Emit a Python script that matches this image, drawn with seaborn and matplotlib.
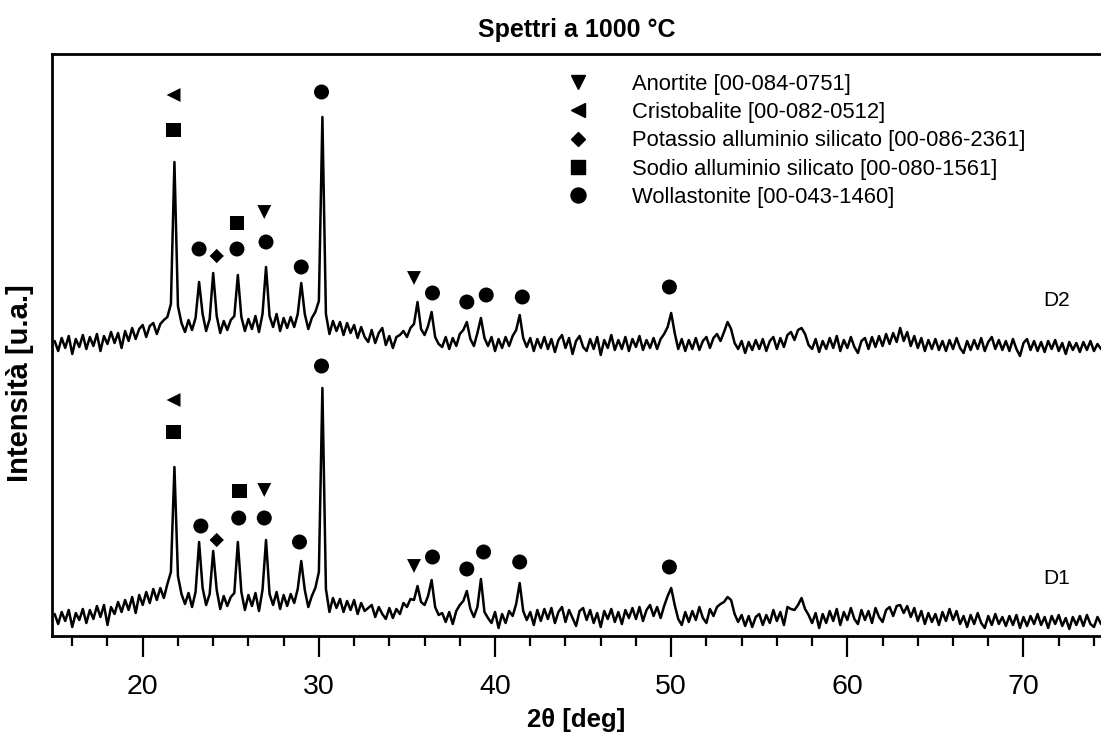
import numpy as np
import pandas as pd
import matplotlib
matplotlib.use("Agg")
import matplotlib.pyplot as plt
import seaborn as sns
from matplotlib.lines import Line2D
from matplotlib.ticker import MultipleLocator

# ---------------- data ----------------
# 2theta sampling grid (deg), step 0.2
two_theta = np.round(np.arange(15.0, 74.41, 0.2), 1)

# intensities (arbitrary units)
d1 = [
    22, 12, 24, 15, 26, 9, 23, 16, 27, 13,
    26, 17, 30, 19, 31, 11, 29, 22, 34, 24,
    36, 26, 39, 23, 41, 31, 44, 33, 47, 36,
    48, 38, 52, 64, 169, 60, 42, 32, 43, 29,
    44, 94, 48, 31, 42, 85, 46, 27, 40, 30,
    39, 43, 94, 44, 26, 41, 30, 43, 25, 46,
    96, 42, 31, 44, 27, 41, 30, 42, 33, 47,
    75, 46, 29, 40, 48, 64, 248, 47, 24, 38,
    28, 37, 24, 35, 26, 36, 22, 33, 25, 28,
    31, 19, 29, 22, 17, 28, 18, 27, 22, 33,
    29, 37, 36, 50, 34, 31, 40, 56, 29, 21,
    23, 14, 24, 12, 25, 31, 35, 45, 27, 19,
    29, 57, 24, 18, 13, 24, 8, 22, 13, 25,
    20, 32, 53, 25, 16, 24, 11, 26, 15, 27,
    17, 28, 13, 24, 29, 14, 26, 18, 10, 25,
    28, 16, 26, 13, 23, 9, 25, 17, 27, 14,
    24, 12, 26, 18, 28, 17, 29, 15, 26, 31,
    20, 29, 18, 30, 40, 48, 31, 17, 11, 24,
    14, 25, 16, 29, 18, 13, 27, 20, 29, 32,
    34, 39, 36, 22, 14, 21, 10, 20, 9, 19,
    22, 11, 21, 13, 26, 15, 24, 11, 29, 27,
    26, 31, 38, 27, 21, 13, 23, 8, 22, 13,
    25, 15, 27, 11, 24, 16, 28, 17, 12, 26,
    16, 25, 13, 28, 19, 14, 26, 29, 20, 30,
    31, 23, 30, 19, 28, 15, 25, 12, 23, 14,
    22, 11, 24, 15, 27, 16, 25, 12, 20, 9,
    21, 12, 23, 13, 8, 20, 11, 22, 12, 19,
    10, 20, 11, 21, 8, 19, 10, 20, 12, 22,
    11, 19, 8, 20, 12, 21, 10, 18, 7, 19,
    11, 20, 10, 21, 12, 9, 19, 12,
]

d2 = [
    295, 285, 298, 288, 300, 282, 297, 289, 301, 287,
    299, 290, 302, 285, 300, 292, 304, 293, 303, 288,
    305, 295, 308, 297, 307, 311, 299, 310, 313, 302,
    312, 316, 319, 332, 474, 330, 313, 304, 316, 306,
    318, 354, 322, 305, 317, 363, 320, 303, 315, 306,
    316, 320, 361, 319, 305, 317, 307, 320, 304, 322,
    369, 320, 309, 322, 305, 318, 308, 319, 309, 322,
    353, 322, 307, 318, 324, 335, 519, 322, 302, 315,
    305, 314, 301, 313, 303, 311, 298, 309, 299, 294,
    306, 293, 303, 308, 291, 300, 288, 299, 301, 305,
    299, 308, 312, 334, 307, 301, 310, 324, 299, 292,
    289, 299, 287, 298, 290, 302, 306, 314, 297, 290,
    303, 318, 298, 290, 299, 285, 297, 288, 299, 290,
    300, 306, 321, 298, 289, 298, 285, 297, 288, 299,
    287, 297, 284, 296, 301, 288, 298, 282, 295, 300,
    289, 285, 297, 287, 299, 281, 296, 288, 301, 286,
    296, 287, 299, 285, 297, 289, 300, 286, 296, 288,
    298, 287, 297, 302, 309, 323, 303, 287, 297, 285,
    296, 287, 298, 286, 295, 299, 288, 298, 302, 295,
    304, 314, 307, 293, 287, 295, 283, 294, 286, 296,
    287, 297, 285, 295, 299, 287, 298, 289, 301, 304,
    296, 306, 308, 302, 291, 287, 297, 284, 295, 287,
    298, 288, 300, 285, 296, 288, 299, 289, 283, 295,
    298, 287, 299, 289, 300, 290, 302, 292, 303, 294,
    308, 295, 304, 290, 300, 288, 298, 285, 296, 287,
    297, 286, 295, 285, 296, 287, 298, 288, 283, 295,
    286, 296, 287, 298, 285, 294, 299, 287, 296, 286,
    295, 285, 297, 287, 280, 293, 297, 286, 295, 285,
    294, 284, 295, 287, 296, 285, 293, 282, 294, 286,
    293, 284, 294, 286, 295, 285, 292, 287,
]

phase_labels = [
    "Anortite [00-084-0751]",
    "Cristobalite [00-082-0512]",
    "Potassio alluminio silicato [00-086-2361]",
    "Sodio alluminio silicato [00-080-1561]",
    "Wollastonite [00-043-1460]",
]
A, C, K, S, W = phase_labels

# phase identification marks above the peaks: phase, 2theta, intensity level
d2_mark_phase = [C, S, W, K, W, S, A, W, W, W, A, W, W, W, W, W]
d2_mark_x = [21.75, 21.75, 23.2, 24.2, 25.35, 25.35, 26.9, 27.0, 29.0, 30.15,
             35.4, 36.45, 38.4, 39.5, 41.55, 49.9]
d2_mark_y = [541, 506, 387, 380, 387, 413, 424, 394, 369, 544,
             358, 343, 334, 341, 339, 349]

d1_mark_phase = [C, S, W, K, S, W, A, W, W, W, A, W, W, W, W, W]
d1_mark_x = [21.75, 21.75, 23.3, 24.2, 25.5, 25.45, 26.9, 26.9, 28.9, 30.15,
             35.4, 36.45, 38.4, 39.35, 41.4, 49.9]
d1_mark_y = [236, 204, 110, 96, 145, 118, 146, 118, 94, 270,
             70, 79, 67, 84, 74, 69]

sample_names = ["D1", "D2"]

# ---------------- styling ----------------
sns.set_theme(style="ticks")
plt.rcParams["font.family"] = ["Liberation Sans", "DejaVu Sans"]
plt.rcParams["text.color"] = "black"
plt.rcParams["axes.labelcolor"] = "black"
plt.rcParams["xtick.color"] = "black"

phase_markers = {A: "v", C: "<", K: "D", S: "s", W: "o"}
phase_msize = {A: 10.0, C: 10.0, K: 7.3, S: 10.3, W: 10.8}

W_PX, H_PX = 1101, 733
fig = plt.figure(figsize=(W_PX / 100, H_PX / 100), dpi=100)
ax = fig.add_axes([52 / W_PX, 97 / H_PX, 1049 / W_PX, 582 / H_PX])

spec = pd.DataFrame({"2θ": two_theta, "D1": d1, "D2": d2})
for name in sample_names:
    sns.lineplot(data=spec, x="2θ", y=name, color="black", linewidth=1.8,
                 ax=ax, estimator=None, sort=False)

marks = pd.DataFrame({
    "x": d2_mark_x + d1_mark_x,
    "y": d2_mark_y + d1_mark_y,
    "phase": d2_mark_phase + d1_mark_phase,
})
sns.scatterplot(data=marks, x="x", y="y", style="phase", markers=phase_markers,
                size="phase", sizes={p: phase_msize[p] ** 2 for p in phase_labels},
                color="black", edgecolor="none", legend=False, ax=ax, zorder=3)

# sample labels
ax.text(71.1, 336, "D2", fontsize=15, ha="left", va="center", color="black")
ax.text(71.1, 58, "D1", fontsize=15, ha="left", va="center", color="black")

# legend
handles = [Line2D([], [], linestyle="", marker=phase_markers[p], color="black",
                  markersize=phase_msize[p]) for p in phase_labels]
leg = ax.legend(handles, phase_labels, loc="upper left", bbox_to_anchor=(0.491, 0.966),
                frameon=False, fontsize=15.8, handlelength=1.0, handletextpad=1.95,
                labelspacing=0.33, borderpad=0, borderaxespad=0)
for t in leg.get_texts():
    t.set_color("black")

ax.set_xlim(14.85, 74.4)
ax.set_ylim(0, 582)
ax.xaxis.set_major_locator(MultipleLocator(10))
ax.xaxis.set_minor_locator(MultipleLocator(2))
ax.tick_params(axis="x", which="major", length=15, width=1.6, labelsize=20.5,
               pad=12, direction="out", colors="black")
ax.tick_params(axis="x", which="minor", length=7.5, width=1.6, direction="out",
               colors="black")
ax.set_yticks([])
for side in ["left", "top", "bottom"]:
    ax.spines[side].set_linewidth(2.0)
    ax.spines[side].set_color("black")
ax.spines["right"].set_visible(False)

ax.set_title("Spettri a 1000 °C", fontsize=18, fontweight="bold", pad=12, color="black")
ax.set_xlabel("2θ [deg]", fontsize=18.5, fontweight="bold", labelpad=6, color="black")
ax.set_ylabel("Intensità [u.a.]", fontsize=21, fontweight="bold", color="black")
ax.yaxis.set_label_coords(-0.017, 0.435)

fig.savefig("out.png", dpi=100)
